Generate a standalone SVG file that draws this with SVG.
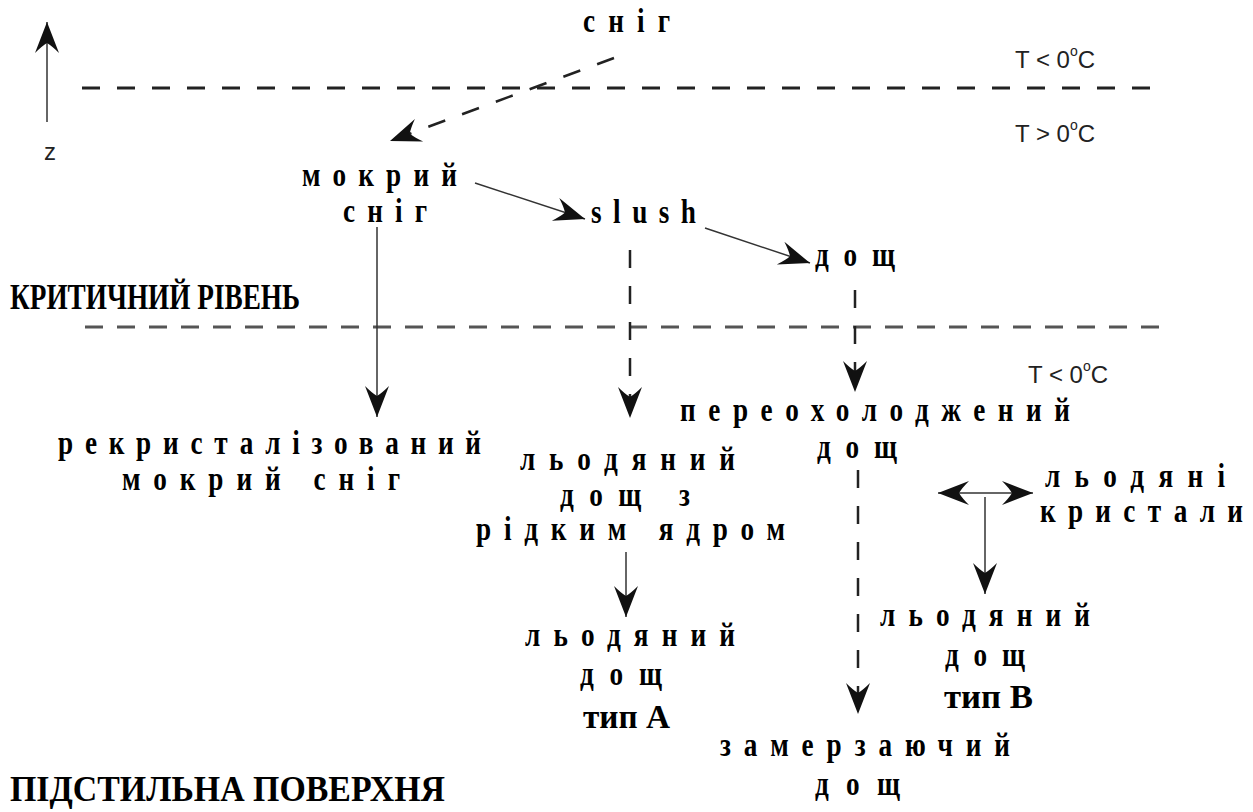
<svg xmlns="http://www.w3.org/2000/svg" width="1253" height="812" viewBox="0 0 1253 812">
  <style>
    .lbl { font-family: "Liberation Serif", "DejaVu Serif", serif; font-weight: bold; font-size: 34px; fill: #000; }
    .cap { font-family: "Liberation Serif", "DejaVu Serif", serif; font-weight: bold; font-size: 36px; fill: #000; }
    .tmp { font-family: "Liberation Sans", Arial, sans-serif; font-size: 24px; fill: #222; }
    .level { fill: none; stroke: #222; stroke-width: 3; stroke-dasharray: 18 17; }
    .level2 { fill: none; stroke: #555; stroke-width: 3; stroke-dasharray: 18 14; }
    .solid { fill: none; stroke: #333; stroke-width: 1.5; marker-end: url(#head); }
    .dash { fill: none; stroke: #222; stroke-width: 2.5; stroke-dasharray: 18 18; marker-end: url(#head); }
  </style>
  <defs>
    <marker id="head" markerUnits="userSpaceOnUse" viewBox="-32 -14 34 28" markerWidth="34" markerHeight="28" refX="0" refY="0" orient="auto-start-reverse">
      <path d="M0,0 L-31,-12 Q-24,-5 -21,0 Q-24,5 -31,12 Z" fill="#111" stroke="none"/>
    </marker>
  </defs>

  <rect width="1253" height="812" fill="#fff"/>

  <!-- height axis and temperature levels -->
  <g id="axis">
    <line x1="47" y1="122" x2="47" y2="22" class="solid"/>
    <text x="50" y="160" class="tmp" text-anchor="middle" font-size="19">z</text>
  </g>
  <g id="levels">
    <line x1="82" y1="88" x2="1160" y2="88" class="level"/>
    <line x1="85" y1="327" x2="1165" y2="327" class="level2"/>
    <text x="1015" y="68" class="tmp">T &lt; 0<tspan font-size="14" dy="-12">o</tspan><tspan dy="12">C</tspan></text>
    <text x="1015" y="142" class="tmp">T &gt; 0<tspan font-size="14" dy="-12">o</tspan><tspan dy="12">C</tspan></text>
    <text x="1028" y="383" class="tmp">T &lt; 0<tspan font-size="14" dy="-12">o</tspan><tspan dy="12">C</tspan></text>
    <text x="10" y="309" class="cap" textLength="290" lengthAdjust="spacingAndGlyphs">КРИТИЧНИЙ РІВЕНЬ</text>
    <text x="10" y="801" class="cap" textLength="435" lengthAdjust="spacingAndGlyphs">ПІДСТИЛЬНА ПОВЕРХНЯ</text>
  </g>

  <!-- connectors -->
  <g id="connectors">
    <line x1="614" y1="58" x2="390" y2="141" class="dash"/>
    <line x1="475" y1="183" x2="585" y2="219" class="solid"/>
    <line x1="705" y1="228" x2="810" y2="263" class="solid"/>
    <line x1="377" y1="227" x2="377" y2="417" class="solid" stroke="#555"/>
    <line x1="630" y1="250" x2="630" y2="418" class="dash"/>
    <line x1="855" y1="290" x2="855" y2="392" class="dash"/>
    <line x1="858" y1="470" x2="858" y2="714" class="dash"/>
    <line x1="626" y1="552" x2="626" y2="617" class="solid" stroke="#777"/>
    <line x1="938" y1="493" x2="1033" y2="493" class="solid" stroke="#999" stroke-width="2" marker-start="url(#head)"/>
    <line x1="985" y1="497" x2="985" y2="594" class="solid"/>
  </g>

  <!-- nodes: condensed bold labels (horizontal scale 0.8) -->
  <g id="snow">
    <text transform="translate(583,32) scale(0.8,1)" class="lbl" textLength="108.75" lengthAdjust="spacing">сніг</text>
  </g>
  <g id="wet-snow">
    <text transform="translate(302,186) scale(0.8,1)" class="lbl" textLength="193.75" lengthAdjust="spacing">мокрий</text>
    <text transform="translate(343,222) scale(0.8,1)" class="lbl" textLength="105" lengthAdjust="spacing">сніг</text>
  </g>
  <g id="slush">
    <text transform="translate(591,223) scale(0.8,1)" class="lbl" textLength="131.25" lengthAdjust="spacing">slush</text>
  </g>
  <g id="rain">
    <text transform="translate(815,266) scale(0.8,1)" class="lbl" textLength="100" lengthAdjust="spacing">дощ</text>
  </g>
  <g id="recrystallized">
    <text transform="translate(58,454) scale(0.8,1)" class="lbl" textLength="528.75" lengthAdjust="spacing">рекристалізований</text>
    <text transform="translate(122,490) scale(0.8,1)" class="lbl" textLength="347.5" lengthAdjust="spacing">мокрий  сніг</text>
  </g>
  <g id="ice-rain-liquid-core">
    <text transform="translate(520,470) scale(0.8,1)" class="lbl" textLength="268.75" lengthAdjust="spacing">льодяний</text>
    <text transform="translate(560,506) scale(0.8,1)" class="lbl" textLength="162.5" lengthAdjust="spacing">дощ  з</text>
    <text transform="translate(476,540) scale(0.8,1)" class="lbl" textLength="386.25" lengthAdjust="spacing">рідким  ядром</text>
  </g>
  <g id="supercooled-rain">
    <text transform="translate(680,421) scale(0.8,1)" class="lbl" textLength="487.5" lengthAdjust="spacing">переохолоджений</text>
    <text transform="translate(817,458) scale(0.8,1)" class="lbl" textLength="100" lengthAdjust="spacing">дощ</text>
  </g>
  <g id="ice-crystals">
    <text transform="translate(1045,487) scale(0.8,1)" class="lbl" textLength="225" lengthAdjust="spacing">льодяні</text>
    <text transform="translate(1040,522) scale(0.8,1)" class="lbl" textLength="253.75" lengthAdjust="spacing">кристали</text>
  </g>
  <g id="ice-rain-a">
    <text transform="translate(525,646) scale(0.8,1)" class="lbl" textLength="262.5" lengthAdjust="spacing">льодяний</text>
    <text transform="translate(580,685) scale(0.8,1)" class="lbl" textLength="102.5" lengthAdjust="spacing">дощ</text>
    <text transform="translate(583,728) scale(0.8,1)" class="lbl" font-size="36" textLength="108.75" lengthAdjust="spacingAndGlyphs">тип А</text>
  </g>
  <g id="ice-rain-b">
    <text transform="translate(880,626) scale(0.8,1)" class="lbl" textLength="262.5" lengthAdjust="spacing">льодяний</text>
    <text transform="translate(945,666) scale(0.8,1)" class="lbl" textLength="100" lengthAdjust="spacing">дощ</text>
    <text transform="translate(944,708) scale(0.8,1)" class="lbl" font-size="36" textLength="111.25" lengthAdjust="spacingAndGlyphs">тип В</text>
  </g>
  <g id="freezing-rain">
    <text transform="translate(720,756) scale(0.8,1)" class="lbl" textLength="362.5" lengthAdjust="spacing">замерзаючий</text>
    <text transform="translate(815,795) scale(0.8,1)" class="lbl" textLength="106.25" lengthAdjust="spacing">дощ</text>
  </g>
</svg>
